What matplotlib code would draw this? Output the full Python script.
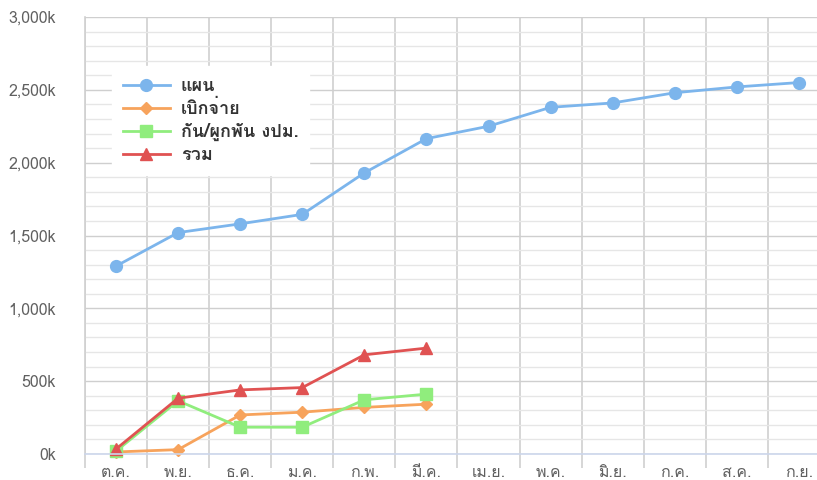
import matplotlib
matplotlib.use("Agg")
import matplotlib.pyplot as plt
from matplotlib import font_manager
from matplotlib.ticker import MultipleLocator, FuncFormatter

# ---- find a font with Thai glyphs ----
thai_font = None
try:
    from fontTools.ttLib import TTFont
    for f in font_manager.fontManager.ttflist:
        try:
            tt = TTFont(f.fname, fontNumber=0, lazy=True)
            cmap = tt.getBestCmap()
            if cmap and 0x0E01 in cmap and 0x0E21 in cmap:
                thai_font = f.name
                break
        except Exception:
            continue
except Exception:
    pass
families = ([thai_font] if thai_font else []) + ['DejaVu Sans']
plt.rcParams['font.family'] = families

# ---- data ----
months = ['ต.ค.', 'พ.ย.', 'ธ.ค.', 'ม.ค.', 'ก.พ.', 'มี.ค.', 'เม.ย.', 'พ.ค.', 'มิ.ย.', 'ก.ค.', 'ส.ค.', 'ก.ย.']
plan = [1290, 1520, 1580, 1645, 1930, 2165, 2250, 2380, 2410, 2480, 2520, 2550]
disbursed = [14, 30, 268, 287, 320, 342]
committed = [20, 365, 184, 184, 372, 411]
total = [34, 383, 440, 456, 681, 727]
series_names = ['แผน', 'เบิกจ่าย', 'กัน/ผูกพัน งปม.', 'รวม']
colors = ['#7cb5ec', '#f7a35c', '#90ed7d', '#e05252']

W, H = 817, 480
fig = plt.figure(figsize=(W / 100, H / 100), dpi=100)
left, right = 85, 830
top, bottom = 17, 454
ax = fig.add_axes([left / W, 1 - bottom / H, (right - left) / W, (bottom - top) / H])
ax.set_xlim(-0.5, len(months) - 0.5)
ax.set_ylim(0, 3000)

# grid
ax.yaxis.set_major_locator(MultipleLocator(500))
ax.yaxis.set_minor_locator(MultipleLocator(100))
ax.grid(which='minor', axis='y', color='#e6e6e6', linewidth=1)
ax.grid(which='major', axis='y', color='#cfcfcf', linewidth=1)
ax.set_xticks(range(len(months)))
ax.set_xticklabels(months)
ax.set_xticks([i - 0.5 for i in range(len(months) + 1)], minor=True)
ax.grid(which='minor', axis='x', color='#d0d0d0', linewidth=1.2)
ax.tick_params(axis='x', which='major', length=0, pad=8, labelsize=11.5, colors='#606060')
ax.tick_params(axis='x', which='minor', length=10, color='#d0d0d0', width=1.2)
ax.tick_params(axis='y', which='both', length=0, pad=21, labelsize=11.5, colors='#606060')
ax.yaxis.set_major_formatter(FuncFormatter(lambda v, p: f'{int(v):,}k'))
ax.set_axisbelow(True)
for s in ['top', 'right']:
    ax.spines[s].set_visible(False)
ax.spines['left'].set_color('#d0d0d0')
ax.spines['left'].set_linewidth(1.2)
ax.spines['left'].set_bounds(0, 3000)
ax.spines['bottom'].set_color('#ccd6eb')
ax.spines['bottom'].set_linewidth(1.2)

xs = range(len(months))
ax.plot(xs, plan, color=colors[0], marker='o', markersize=8.5, linewidth=2, label=series_names[0], clip_on=False)
ax.plot(range(len(disbursed)), disbursed, color=colors[1], marker='D', markersize=6.5, linewidth=2, label=series_names[1], clip_on=False)
ax.plot(range(len(committed)), committed, color=colors[2], marker='s', markersize=8.5, linewidth=2, label=series_names[2], clip_on=False)
ax.plot(range(len(total)), total, color=colors[3], marker='^', markersize=8.5, linewidth=2, label=series_names[3], clip_on=False)

leg = ax.legend(loc='upper left', bbox_to_anchor=((103 - left) / (right - left), 1 - (57 - top) / (bottom - top)),
                frameon=True, fancybox=False, framealpha=1, edgecolor='white', facecolor='white',
                fontsize=13, handlelength=2.6, borderpad=0.6, labelspacing=0.28, handletextpad=0.6)
for t in leg.get_texts():
    t.set_color('#333333')
    t.set_fontweight('bold')

fig.savefig('out.png', dpi=100)
